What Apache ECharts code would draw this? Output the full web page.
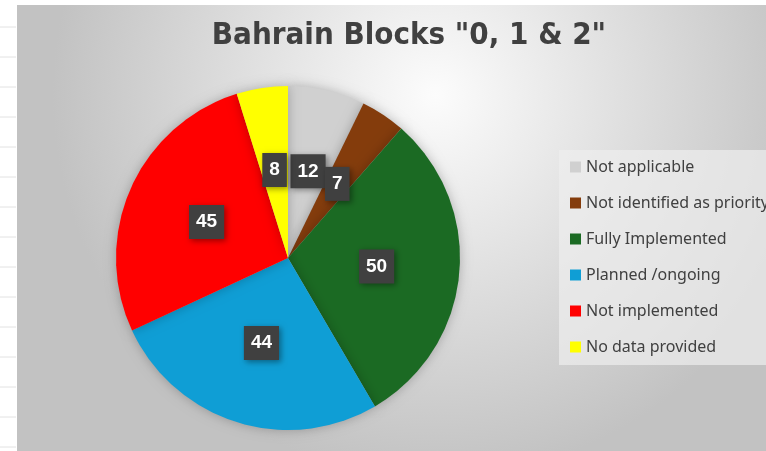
<!DOCTYPE html>
<html>
<head>
<meta charset="utf-8">
<script src="https://cdn.jsdelivr.net/npm/echarts@6/dist/echarts.min.js"></script>
<style>
  html, body { margin: 0; padding: 0; background: #fff; }
  #chart { width: 766px; height: 451px; }
</style>
</head>
<body>
<div id="chart"></div>
<script>
// data
const categories = ['Not applicable', 'Not identified as priority', 'Fully Implemented', 'Planned /ongoing', 'Not implemented', 'No data provided'];
const values = [12, 7, 50, 44, 45, 8];
const colors = ['#d0d0d0', '#843c0c', '#1b6a23', '#0f9ed5', '#ff0000', '#ffff00'];

const myChart = echarts.init(document.getElementById('chart'));

// spreadsheet gridlines on the left strip
const gridLines = [];
for (let y = 27; y < 451; y += 30) {
  gridLines.push({
    type: 'line',
    shape: {x1: 0, y1: y, x2: 16, y2: y},
    style: {stroke: '#e2e2e2', lineWidth: 1},
    silent: true
  });
}

const option = {
  backgroundColor: '#ffffff',
  graphic: [
    {
      type: 'rect',
      z: -10,
      shape: {x: 17, y: 5, width: 760, height: 450},
      style: {
        fill: new echarts.graphic.RadialGradient(0.55, 0.2, 0.85, [
          {offset: 0, color: '#fcfcfc'},
          {offset: 0.55, color: '#dcdcdc'},
          {offset: 1, color: '#c2c2c2'}
        ])
      },
      silent: true
    }
  ].concat(gridLines),
  title: {
    text: 'Bahrain Blocks "0, 1 & 2"',
    left: 404,
    textAlign: 'center',
    top: 15,
    textStyle: {
      fontFamily: '"DejaVu Sans Condensed", "DejaVu Sans", sans-serif',
      fontWeight: 'bold',
      fontSize: 31,
      color: '#404040'
    }
  },
  legend: {
    orient: 'vertical',
    left: 559,
    top: 150,
    padding: [7, 30, 8, 11],
    backgroundColor: 'rgba(238,238,238,0.7)',
    icon: 'rect',
    itemWidth: 11,
    itemHeight: 11,
    itemGap: 16,
    data: categories,
    textStyle: {
      fontFamily: 'Noto Sans',
      fontSize: 16,
      lineHeight: 20,
      color: '#404040'
    }
  },
  series: [{
    type: 'pie',
    center: [288, 258],
    radius: 172,
    startAngle: 90,
    clockwise: true,
    avoidLabelOverlap: false,
    silent: true,
    labelLayout: {hideOverlap: false},
    itemStyle: {
      shadowBlur: 12,
      shadowColor: 'rgba(0,0,0,0.25)'
    },
    label: {
      show: true,
      position: 'inside',
      formatter: '{c}',
      color: '#ffffff',
      fontFamily: 'Liberation Sans',
      fontWeight: 'bold',
      fontSize: 19,
      lineHeight: 20,
      backgroundColor: '#404040',
      padding: [7, 7],
      shadowBlur: 6,
      shadowColor: 'rgba(0,0,0,0.4)',
      shadowOffsetX: 2,
      shadowOffsetY: 2
    },
    labelLine: {show: false},
    data: categories.map((name, i) => ({
      name: name,
      value: values[i],
      itemStyle: {color: colors[i]}
    }))
  }]
};

myChart.setOption(option);
</script>
</body>
</html>
